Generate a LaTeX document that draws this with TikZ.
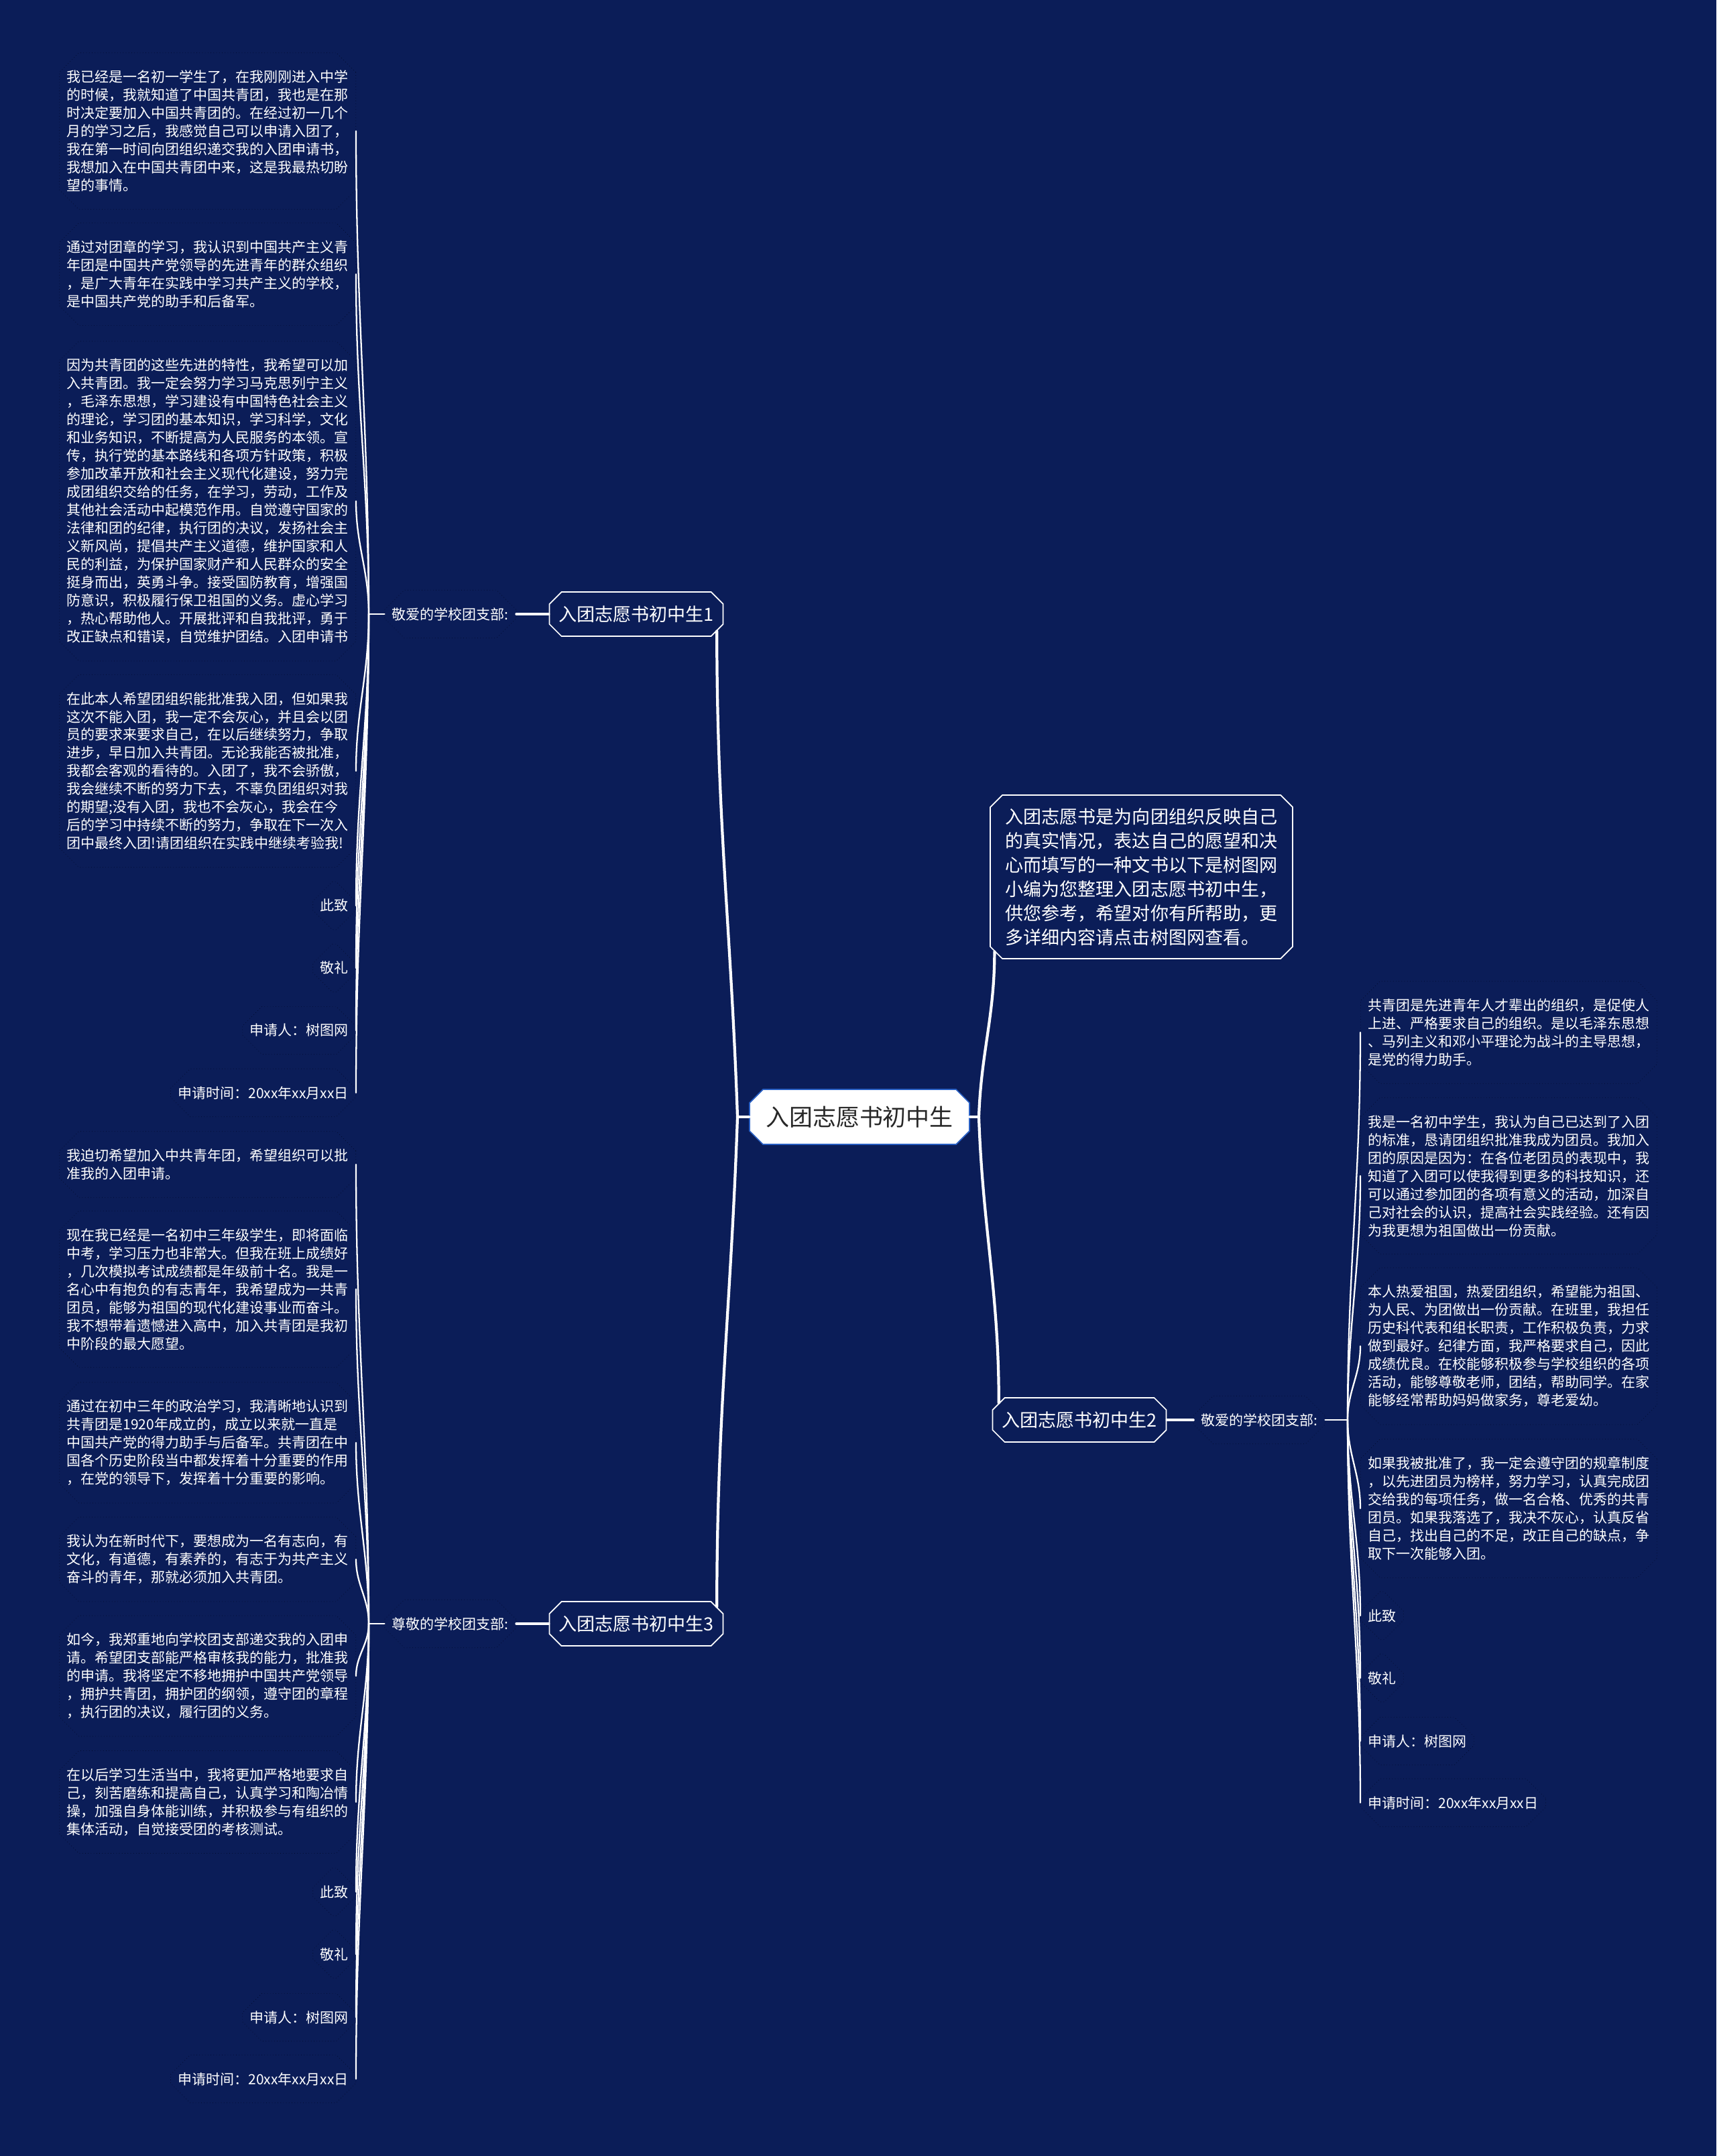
\documentclass[tikz,border=0pt]{standalone}
\usepackage{fontspec}
\setmainfont{Noto Sans CJK SC}
\usepackage{tikz}
\usetikzlibrary{shapes,positioning}

\definecolor{navy}{RGB}{11,29,88}
\definecolor{dotline}{RGB}{3,10,42}
\definecolor{rootblue}{RGB}{40,95,195}
\definecolor{roottext}{RGB}{40,40,40}

\begin{document}
\begin{tikzpicture}[
    root/.style={chamfered rectangle, chamfered rectangle xsep=0.2cm, chamfered rectangle ysep=0.2cm,
        draw=rootblue, line width=1pt, fill=white, text=roottext, inner sep=0pt,
        minimum width=6.56cm, minimum height=1.64cm, font=\fontsize{19.9}{24}\selectfont},
    branch/.style={chamfered rectangle, chamfered rectangle xsep=0.18cm, chamfered rectangle ysep=0.18cm,
        draw=white, line width=1pt, fill=navy, text=white, inner sep=0pt,
        minimum width=5.18cm, minimum height=1.32cm, font=\fontsize{15.4}{18}\selectfont},
    intro/.style={branch, align=left, minimum width=9.02cm, minimum height=4.88cm,
        font=\fontsize{15.4}{20.5}\selectfont},
    greet/.style={chamfered rectangle, chamfered rectangle xsep=0.22cm, chamfered rectangle ysep=0.36cm,
        draw=dotline, dotted, text=white, inner xsep=0pt, inner ysep=0.16cm,
        font=\fontsize{11.95}{15.36}\selectfont},
    leaf/.style={greet, align=left},
    link/.style={draw=white, line width=2.4pt, line cap=round},
    twig/.style={draw=white, line width=1.3pt, line cap=round}
]
    % Background
    \fill[navy] (0,0) rectangle (51.2,-64.32);

    % --- Centre ---
    \node[root] (root) at (25.64, -33.32) {入团志愿书初中生};
    \node[intro] (intro) at (34.05, -26.16) {入团志愿书是为向团组织反映自己\\的真实情况，表达自己的愿望和决\\心而填写的一种文书以下是树图网\\小编为您整理入团志愿书初中生，\\供您参考，希望对你有所帮助，更\\多详细内容请点击树图网查看。};
    \node[branch] (app1) at (18.98, -18.32) {入团志愿书初中生1};
    \node[branch] (app2) at (32.2, -42.36) {入团志愿书初中生2};
    \node[branch] (app3) at (18.98, -48.44) {入团志愿书初中生3};

    \coordinate (ljoint) at (22.0, -33.32);
    \coordinate (rjoint) at (29.2, -33.32);
    \draw[link] (root.west) -- (ljoint);
    \draw[link] (root.east) -- (rjoint);
    \draw[link] (ljoint) to[out=92, in=-90] (app1.348);
    \draw[link] (ljoint) to[out=-92, in=90] (app3.12);
    \draw[link] (rjoint) to[out=88, in=-90] (intro.207);
    \draw[link] (rjoint) to[out=-88, in=90] (app2.168);

    % --- Letter 1 (left, top) ---
    \node[greet, anchor=east] (greet1) at (15.4, -18.32) {敬爱的学校团支部:};
    \coordinate (hub1) at (11.0, -18.32);
    \draw[link, line width=2pt] (greet1.east) -- (app1.west);
    \draw[twig] (hub1) -- (greet1.west);

    \node[leaf, anchor=east] (a1) at (10.62, -3.91) {我已经是一名初一学生了，在我刚刚进入中学\\的时候，我就知道了中国共青团，我也是在那\\时决定要加入中国共青团的。在经过初一几个\\月的学习之后，我感觉自己可以申请入团了，\\我在第一时间向团组织递交我的入团申请书，\\我想加入在中国共青团中来，这是我最热切盼\\望的事情。};
    \node[leaf, anchor=east] (a2) at (10.62, -8.18) {通过对团章的学习，我认识到中国共产主义青\\年团是中国共产党领导的先进青年的群众组织\\，是广大青年在实践中学习共产主义的学校，\\是中国共产党的助手和后备军。};
    \node[leaf, anchor=east] (a3) at (10.62, -14.95) {因为共青团的这些先进的特性，我希望可以加\\入共青团。我一定会努力学习马克思列宁主义\\，毛泽东思想，学习建设有中国特色社会主义\\的理论，学习团的基本知识，学习科学，文化\\和业务知识，不断提高为人民服务的本领。宣\\传，执行党的基本路线和各项方针政策，积极\\参加改革开放和社会主义现代化建设，努力完\\成团组织交给的任务，在学习，劳动，工作及\\其他社会活动中起模范作用。自觉遵守国家的\\法律和团的纪律，执行团的决议，发扬社会主\\义新风尚，提倡共产主义道德，维护国家和人\\民的利益，为保护国家财产和人民群众的安全\\挺身而出，英勇斗争。接受国防教育，增强国\\防意识，积极履行保卫祖国的义务。虚心学习\\，热心帮助他人。开展批评和自我批评，勇于\\改正缺点和错误，自觉维护团结。入团申请书};
    \node[leaf, anchor=east] (a4) at (10.62, -23.0) {在此本人希望团组织能批准我入团，但如果我\\这次不能入团，我一定不会灰心，并且会以团\\员的要求来要求自己，在以后继续努力，争取\\进步，早日加入共青团。无论我能否被批准，\\我都会客观的看待的。入团了，我不会骄傲，\\我会继续不断的努力下去，不辜负团组织对我\\的期望;没有入团，我也不会灰心，我会在今\\后的学习中持续不断的努力，争取在下一次入\\团中最终入团!请团组织在实践中继续考验我!};
    \node[greet, anchor=east] (a5) at (10.62, -27.02) {此致};
    \node[greet, anchor=east] (a6) at (10.62, -28.88) {敬礼};
    \node[greet, anchor=east] (a7) at (10.62, -30.74) {申请人：树图网};
    \node[greet, anchor=east] (a8) at (10.62, -32.6) {申请时间：20xx年xx月xx日};

    \draw[twig] (hub1) to[out=90, in=-90] (a1.east);
    \draw[twig] (hub1) to[out=90, in=-90] (a2.east);
    \draw[twig] (hub1) to[out=90, in=-90] (a3.east);
    \draw[twig] (hub1) to[out=-90, in=90] (a4.east);
    \draw[twig] (hub1) to[out=-90, in=90] (a5.east);
    \draw[twig] (hub1) to[out=-90, in=90] (a6.east);
    \draw[twig] (hub1) to[out=-90, in=90] (a7.east);
    \draw[twig] (hub1) to[out=-90, in=90] (a8.east);

    % --- Letter 2 (right) ---
    \node[greet, anchor=west] (greet2) at (35.6, -42.36) {敬爱的学校团支部:};
    \coordinate (hub2) at (40.2, -42.36);
    \draw[link, line width=2pt] (app2.east) -- (greet2.west);
    \draw[twig] (greet2.east) -- (hub2);

    \node[leaf, anchor=west] (b1) at (40.58, -30.8) {共青团是先进青年人才辈出的组织，是促使人\\上进、严格要求自己的组织。是以毛泽东思想\\、马列主义和邓小平理论为战斗的主导思想，\\是党的得力助手。};
    \node[leaf, anchor=west] (b2) at (40.58, -35.08) {我是一名初中学生，我认为自己已达到了入团\\的标准，恳请团组织批准我成为团员。我加入\\团的原因是因为：在各位老团员的表现中，我\\知道了入团可以使我得到更多的科技知识，还\\可以通过参加团的各项有意义的活动，加深自\\己对社会的认识，提高社会实践经验。还有因\\为我更想为祖国做出一份贡献。};
    \node[leaf, anchor=west] (b3) at (40.58, -40.16) {本人热爱祖国，热爱团组织，希望能为祖国、\\为人民、为团做出一份贡献。在班里，我担任\\历史科代表和组长职责，工作积极负责，力求\\做到最好。纪律方面，我严格要求自己，因此\\成绩优良。在校能够积极参与学校组织的各项\\活动，能够尊敬老师，团结，帮助同学。在家\\能够经常帮助妈妈做家务，尊老爱幼。};
    \node[leaf, anchor=west] (b4) at (40.58, -45.0) {如果我被批准了，我一定会遵守团的规章制度\\，以先进团员为榜样，努力学习，认真完成团\\交给我的每项任务，做一名合格、优秀的共青\\团员。如果我落选了，我决不灰心，认真反省\\自己，找出自己的不足，改正自己的缺点，争\\取下一次能够入团。};
    \node[greet, anchor=west] (b5) at (40.58, -48.2) {此致};
    \node[greet, anchor=west] (b6) at (40.58, -50.06) {敬礼};
    \node[greet, anchor=west] (b7) at (40.58, -51.94) {申请人：树图网};
    \node[greet, anchor=west] (b8) at (40.58, -53.78) {申请时间：20xx年xx月xx日};

    \draw[twig] (hub2) to[out=90, in=-90] (b1.west);
    \draw[twig] (hub2) to[out=90, in=-90] (b2.west);
    \draw[twig] (hub2) to[out=90, in=-90] (b3.west);
    \draw[twig] (hub2) to[out=-90, in=90] (b4.west);
    \draw[twig] (hub2) to[out=-90, in=90] (b5.west);
    \draw[twig] (hub2) to[out=-90, in=90] (b6.west);
    \draw[twig] (hub2) to[out=-90, in=90] (b7.west);
    \draw[twig] (hub2) to[out=-90, in=90] (b8.west);

    % --- Letter 3 (left, bottom) ---
    \node[greet, anchor=east] (greet3) at (15.4, -48.44) {尊敬的学校团支部:};
    \coordinate (hub3) at (11.0, -48.44);
    \draw[link, line width=2pt] (greet3.east) -- (app3.west);
    \draw[twig] (hub3) -- (greet3.west);

    \node[leaf, anchor=east] (c1) at (10.62, -34.74) {我迫切希望加入中共青年团，希望组织可以批\\准我的入团申请。};
    \node[leaf, anchor=east] (c2) at (10.62, -38.46) {现在我已经是一名初中三年级学生，即将面临\\中考，学习压力也非常大。但我在班上成绩好\\，几次模拟考试成绩都是年级前十名。我是一\\名心中有抱负的有志青年，我希望成为一共青\\团员，能够为祖国的现代化建设事业而奋斗。\\我不想带着遗憾进入高中，加入共青团是我初\\中阶段的最大愿望。};
    \node[leaf, anchor=east] (c3) at (10.62, -43.04) {通过在初中三年的政治学习，我清晰地认识到\\共青团是1920年成立的，成立以来就一直是\\中国共产党的得力助手与后备军。共青团在中\\国各个历史阶段当中都发挥着十分重要的作用\\，在党的领导下，发挥着十分重要的影响。};
    \node[leaf, anchor=east] (c4) at (10.62, -46.52) {我认为在新时代下，要想成为一名有志向，有\\文化，有道德，有素养的，有志于为共产主义\\奋斗的青年，那就必须加入共青团。};
    \node[leaf, anchor=east] (c5) at (10.62, -50.0) {如今，我郑重地向学校团支部递交我的入团申\\请。希望团支部能严格审核我的能力，批准我\\的申请。我将坚定不移地拥护中国共产党领导\\，拥护共青团，拥护团的纲领，遵守团的章程\\，执行团的决议，履行团的义务。};
    \node[leaf, anchor=east] (c6) at (10.62, -53.76) {在以后学习生活当中，我将更加严格地要求自\\己，刻苦磨练和提高自己，认真学习和陶冶情\\操，加强自身体能训练，并积极参与有组织的\\集体活动，自觉接受团的考核测试。};
    \node[greet, anchor=east] (c7) at (10.62, -56.44) {此致};
    \node[greet, anchor=east] (c8) at (10.62, -58.3) {敬礼};
    \node[greet, anchor=east] (c9) at (10.62, -60.18) {申请人：树图网};
    \node[greet, anchor=east] (c10) at (10.62, -62.02) {申请时间：20xx年xx月xx日};

    \draw[twig] (hub3) to[out=90, in=-90] (c1.east);
    \draw[twig] (hub3) to[out=90, in=-90] (c2.east);
    \draw[twig] (hub3) to[out=90, in=-90] (c3.east);
    \draw[twig] (hub3) to[out=90, in=-90] (c4.east);
    \draw[twig] (hub3) to[out=-90, in=90] (c5.east);
    \draw[twig] (hub3) to[out=-90, in=90] (c6.east);
    \draw[twig] (hub3) to[out=-90, in=90] (c7.east);
    \draw[twig] (hub3) to[out=-90, in=90] (c8.east);
    \draw[twig] (hub3) to[out=-90, in=90] (c9.east);
    \draw[twig] (hub3) to[out=-90, in=90] (c10.east);
\end{tikzpicture}
\end{document}
